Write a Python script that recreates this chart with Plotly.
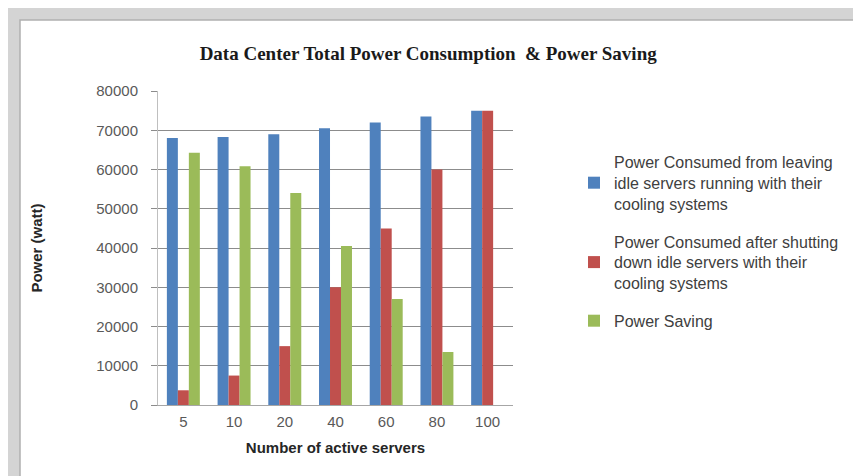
import plotly.graph_objects as go

categories = ["5", "10", "20", "40", "60", "80", "100"]
consumed_idle = [68000, 68300, 69000, 70500, 72000, 73500, 75000]
consumed_shutdown = [3750, 7500, 15000, 30000, 45000, 60000, 75000]
power_saving = [64250, 60800, 54000, 40500, 27000, 13500, 0]
series_names = [
    "Power Consumed from leaving<br>idle servers running with their<br>cooling systems",
    "Power Consumed after shutting<br>down idle servers with their<br>cooling systems",
    "Power Saving",
]
y_ticks = [0, 10000, 20000, 30000, 40000, 50000, 60000, 70000, 80000]

colors = ["#4F81BD", "#C0504D", "#9BBB59"]

W, H = 861, 476
L, R, T, B = 150, 505, 83, 397  # plot area in pixels


def px_x(p):
    return (p - L) / (R - L)


def px_y(p):
    return (B - p) / (B - T)


fig = go.Figure()
for i, vals in enumerate([consumed_idle, consumed_shutdown, power_saving]):
    fig.add_trace(go.Bar(
        x=categories, y=vals, name=series_names[i],
        marker=dict(color=colors[i], line=dict(width=0)),
        legendgroup=f"g{i}",
    ))

fig.update_layout(
    width=W, height=H,
    margin=dict(l=L, r=W - R, t=T, b=H - B, autoexpand=False),
    paper_bgcolor="#d4d4d4",
    plot_bgcolor="rgba(0,0,0,0)",
    barmode="group", bargap=0.35, bargroupgap=0,
    font=dict(family="Liberation Sans", size=15, color="#404040"),
    title=dict(
        text="<b>Data Center Total Power Consumption  &amp; Power Saving</b>",
        x=0.488, xanchor="center", y=1 - 45 / H, yanchor="middle",
        font=dict(family="Liberation Serif", size=19, color="#1a1a1a"),
    ),
    xaxis=dict(
        type="category", showgrid=False, showline=True, linecolor="#a6a6a6",
        linewidth=1, ticks="", tickfont=dict(size=15, color="#595959"),
        ticklabelstandoff=3,
        title=dict(text="<b>Number of active servers</b>", standoff=13,
                   font=dict(size=15, color="#262626")),
    ),
    yaxis=dict(
        range=[0, 80000], tickvals=y_ticks, tickformat="d",
        showgrid=True, gridcolor="#8c8c8c",
        gridwidth=1, zeroline=False, showline=True, linecolor="#bfbfbf",
        ticks="outside", ticklen=6, tickcolor="#8c8c8c",
        tickfont=dict(size=15, color="#595959"), ticklabelstandoff=10,
        title=dict(text="<b>Power (watt)</b>", standoff=50,
                   font=dict(size=15, color="#262626")),
    ),
    legend=dict(
        x=px_x(566), xanchor="left", y=px_y(137), yanchor="top",
        font=dict(size=16, color="#404040"), bgcolor="rgba(0,0,0,0)",
        traceorder="grouped", tracegroupgap=14, itemwidth=30,
    ),
    shapes=[
        dict(type="rect", xref="paper", yref="paper", layer="below",
             x0=px_x(12), x1=px_x(858), y0=px_y(472), y1=px_y(12),
             fillcolor="white", line=dict(color="#b0b0b0", width=1.5)),
    ],
)

fig.write_html("out.html")
